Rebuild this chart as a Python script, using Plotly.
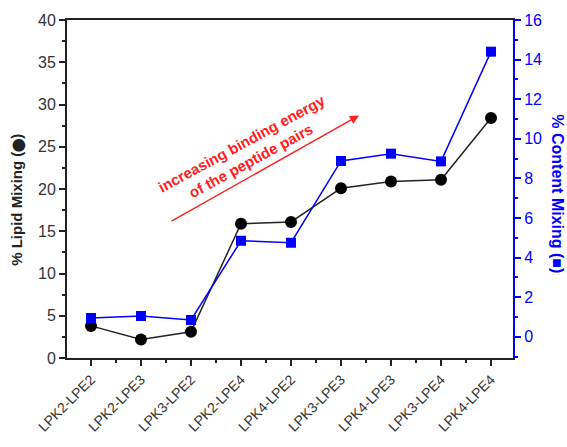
import plotly.graph_objects as go

# Peptide pairs and measured mixing percentages
categories = ["LPK2-LPE2", "LPK2-LPE3", "LPK3-LPE2", "LPK2-LPE4", "LPK4-LPE2",
              "LPK3-LPE3", "LPK4-LPE3", "LPK3-LPE4", "LPK4-LPE4"]
lipid_mixing = [3.8, 2.2, 3.1, 15.9, 16.1, 20.1, 20.9, 21.1, 28.4]
content_mixing = [0.95, 1.05, 0.85, 4.85, 4.75, 8.88, 9.25, 8.86, 14.4]

x_idx = list(range(len(categories)))
font_family = "Arial, Liberation Sans, Helvetica, sans-serif"
blue = "#0000FF"
red = "#FF2020"

fig = go.Figure()
fig.add_trace(go.Scatter(
    x=x_idx, y=lipid_mixing, mode="lines+markers",
    line=dict(color="#222222", width=1.5),
    marker=dict(symbol="circle", size=12, color="black"),
    showlegend=False, yaxis="y"))
fig.add_trace(go.Scatter(
    x=x_idx, y=content_mixing, mode="lines+markers",
    line=dict(color=blue, width=1.5),
    marker=dict(symbol="square", size=10, color=blue),
    showlegend=False, yaxis="y2"))

# Trend arrow and caption
fig.add_annotation(x=5.36, y=28.7, ax=1.58, ay=16.1, xref="x", yref="y",
                   axref="x", ayref="y", text="", showarrow=True,
                   arrowhead=2, arrowsize=1.2, arrowwidth=1.5, arrowcolor=red)
fig.add_annotation(x=3.1, y=24.3, xref="x", yref="y", showarrow=False,
                   text="<b>increasing binding energy<br>of the peptide pairs</b>",
                   textangle=-28.5, align="center",
                   font=dict(family=font_family, size=15, color=red))

# Axis titles: left reads bottom to top, right reads top to bottom
fig.add_annotation(x=-0.112, y=0.468, xref="paper", yref="paper", showarrow=False,
                   xanchor="center", yanchor="middle",
                   text="<b>% Lipid Mixing (<span style='font-size:12px'>⬤</span>)</b>",
                   textangle=-90,
                   font=dict(family=font_family, size=15, color="#222222"))
fig.add_annotation(x=1.101, y=0.487, xref="paper", yref="paper", showarrow=False,
                   xanchor="center", yanchor="middle",
                   text="<b>% Content Mixing (■)</b>", textangle=90,
                   font=dict(family=font_family, size=16, color=blue))

fig.update_layout(
    width=567, height=447,
    margin=dict(l=67, r=54, t=18, b=88),
    plot_bgcolor="white", paper_bgcolor="white",
    font=dict(family=font_family, color="#333333"),
    xaxis=dict(
        range=[-0.48, 8.44], tickvals=x_idx, ticktext=categories,
        tickangle=-45, tickfont=dict(size=14, color="#333333"),
        showgrid=False, zeroline=False,
        showline=True, linecolor="#222222", linewidth=2, mirror=True,
        ticks="outside", ticklen=6, tickwidth=1.5, tickcolor="#222222",
        minor=dict(dtick=0.5, tick0=0, ticks="outside", ticklen=3,
                   tickcolor="#222222", tickwidth=1.5, showgrid=False),
    ),
    yaxis=dict(
        range=[0, 40], dtick=5, tickfont=dict(size=16, color="#333333"),
        showgrid=False, zeroline=False,
        showline=True, linecolor="#222222", linewidth=2,
        ticks="outside", ticklen=6, tickwidth=1.5, tickcolor="#222222",
        minor=dict(dtick=2.5, ticks="outside", ticklen=3,
                   tickcolor="#222222", tickwidth=1.5, showgrid=False),
    ),
    yaxis2=dict(
        range=[-1.07, 16], dtick=2, overlaying="y", side="right",
        tickfont=dict(size=16, color=blue),
        showgrid=False, zeroline=False,
        showline=True, linecolor=blue, linewidth=2,
        ticks="outside", ticklen=6, tickwidth=1.5, tickcolor=blue,
        minor=dict(dtick=1, tick0=0, ticks="outside", ticklen=3,
                   tickcolor=blue, tickwidth=1.5, showgrid=False),
    ),
)

fig.write_html("out.html")
